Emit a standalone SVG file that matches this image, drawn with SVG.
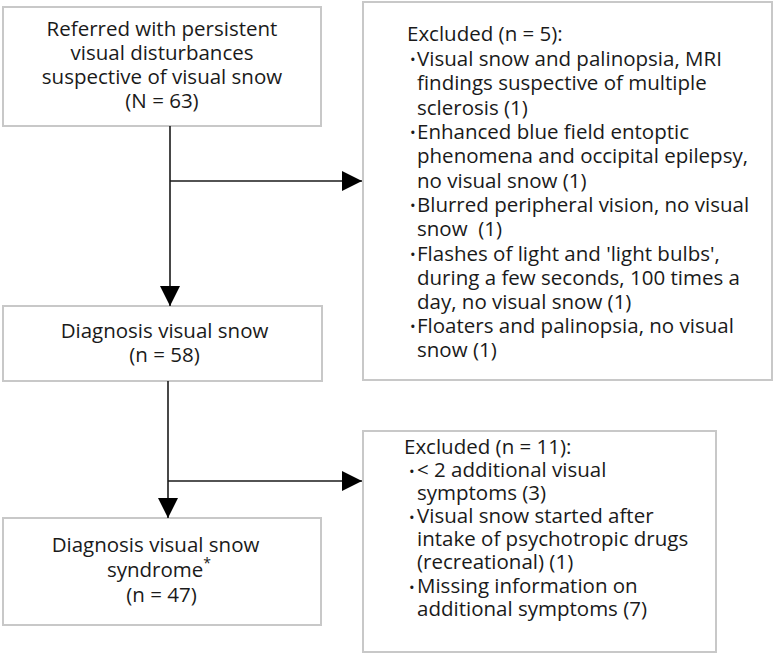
<svg xmlns="http://www.w3.org/2000/svg" width="775" height="656" viewBox="0 0 775 656">
<style>
.box{fill:#fff;stroke:#c8c8c8;stroke-width:2}
.t{font-family:"Open Sans","Noto Sans",sans-serif;font-size:20.5px;fill:#1a1a1a}
.c{text-anchor:middle}
.b{font-size:15px}
.ln{stroke:#1a1a1a;stroke-width:1.6;fill:none}
</style>
<defs>
<marker id="ah" markerWidth="20" markerHeight="20" viewBox="0 0 20 20" refX="20" refY="10" orient="auto" markerUnits="userSpaceOnUse">
<path d="M0,0 L20,10 L0,20 Z" fill="#000"/>
</marker>
</defs>
<rect width="775" height="656" fill="#fff"/>
<g id="n1">
<rect class="box" x="3" y="7" width="318" height="119"/>
<text class="t c"><tspan x="162" y="36">Referred with persistent</tspan><tspan x="162" y="60">visual disturbances</tspan><tspan x="162" y="84">suspective of visual snow</tspan><tspan x="162" y="108">(N = 63)</tspan></text>
</g>
<g id="n2">
<rect class="box" x="363" y="2" width="409" height="378"/>
<text class="t b"><tspan x="410" y="65">•</tspan><tspan x="410" y="138">•</tspan><tspan x="410" y="211">•</tspan><tspan x="410" y="260">•</tspan><tspan x="410" y="332">•</tspan></text>
<text class="t" xml:space="preserve"><tspan x="407" y="41">Excluded (n = 5):</tspan><tspan x="417" y="66">Visual snow and palinopsia, MRI</tspan><tspan x="417" y="90">findings suspective of multiple</tspan><tspan x="417" y="115">sclerosis (1)</tspan><tspan x="417" y="139">Enhanced blue field entoptic</tspan><tspan x="417" y="163">phenomena and occipital epilepsy,</tspan><tspan x="417" y="188">no visual snow (1)</tspan><tspan x="417" y="212">Blurred peripheral vision, no visual</tspan><tspan x="417" y="236">snow  (1)</tspan><tspan x="417" y="261">Flashes of light and 'light bulbs',</tspan><tspan x="417" y="285">during a few seconds, 100 times a</tspan><tspan x="417" y="309">day, no visual snow (1)</tspan><tspan x="417" y="333">Floaters and palinopsia, no visual</tspan><tspan x="417" y="357">snow (1)</tspan></text>
</g>
<g id="n3">
<rect class="box" x="3" y="306" width="319" height="75"/>
<text class="t c"><tspan x="164.5" y="338">Diagnosis visual snow</tspan><tspan x="164.5" y="362">(n = 58)</tspan></text>
</g>
<g id="n4">
<rect class="box" x="3" y="518" width="318" height="107"/>
<text class="t c"><tspan x="155.5" y="552">Diagnosis visual snow</tspan><tspan x="159" y="577">syndrome<tspan font-size="14" dy="-9">*</tspan></tspan><tspan x="161.5" y="602">(n = 47)</tspan></text>
</g>
<g id="n5">
<rect class="box" x="363" y="431" width="353" height="221"/>
<text class="t b"><tspan x="409" y="477">•</tspan><tspan x="409" y="523">•</tspan><tspan x="409" y="593">•</tspan></text>
<text class="t"><tspan x="404" y="454">Excluded (n = 11):</tspan><tspan x="417" y="477">&lt; 2 additional visual</tspan><tspan x="417" y="500">symptoms (3)</tspan><tspan x="417" y="523">Visual snow started after</tspan><tspan x="417" y="546">intake of psychotropic drugs</tspan><tspan x="417" y="569">(recreational) (1)</tspan><tspan x="417" y="593">Missing information on</tspan><tspan x="417" y="616">additional symptoms (7)</tspan></text>
</g>
<g id="connectors">
<line class="ln" x1="170" y1="126" x2="170" y2="306" marker-end="url(#ah)"/>
<line class="ln" x1="170" y1="181" x2="362" y2="181" marker-end="url(#ah)"/>
<line class="ln" x1="168" y1="381" x2="168" y2="518" marker-end="url(#ah)"/>
<line class="ln" x1="168" y1="481" x2="362" y2="481" marker-end="url(#ah)"/>
</g>
</svg>
